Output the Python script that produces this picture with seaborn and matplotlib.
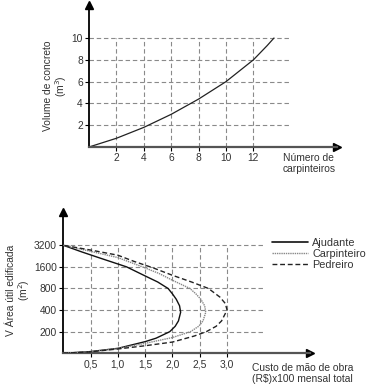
import numpy as np
import pandas as pd
import seaborn as sns
import matplotlib.pyplot as plt

sns.set_theme(style='white')
plt.rcParams['font.family'] = ['Liberation Sans', 'DejaVu Sans']

# top chart: volume de concreto x numero de carpinteiros
carp = [0, 1, 2, 3, 4, 5, 6, 7, 8, 9, 10, 11, 12, 13, 13.5]
volume = [0, 0.4, 0.8, 1.3, 1.8, 2.4, 3.0, 3.7, 4.4, 5.2, 6.0, 7.0, 8.0, 9.3, 10.0]
top_xticks = [2, 4, 6, 8, 10, 12]
top_yticks = [2, 4, 6, 8, 10]

# bottom chart: custo (R$ x100) x area (categorias igualmente espacadas)
area_labels = ['200', '400', '800', '1600', '3200']
area_pos = [1, 2, 3, 4, 5]
custo_ticks = [0.5, 1.0, 1.5, 2.0, 2.5, 3.0]
custo_labels = ['0,5', '1,0', '1,5', '2,0', '2,5', '3,0']

ajud_x = [0, 0.5, 1.0, 1.5, 1.7, 1.95, 2.05, 2.11, 2.15, 2.13, 2.07, 2.0, 1.92, 1.73, 1.5, 1.16, 0.67, 0.33, 0]
ajud_y = [0, 0.08, 0.23, 0.54, 0.7, 1.0, 1.25, 1.5, 1.9, 2.2, 2.5, 2.75, 3.0, 3.3, 3.58, 4.0, 4.41, 4.7, 5.0]
carp_x = [0, 0.5, 1.0, 1.5, 2.0, 2.33, 2.48, 2.56, 2.61, 2.59, 2.52, 2.43, 2.32, 2.0, 1.75, 1.45, 1.0, 0.5, 0]
carp_y = [0, 0.08, 0.22, 0.46, 0.73, 1.0, 1.25, 1.5, 1.9, 2.2, 2.5, 2.75, 3.0, 3.38, 3.7, 4.0, 4.43, 4.72, 5.0]
pedr_x = [0, 0.5, 1.0, 1.5, 2.0, 2.4, 2.62, 2.8, 2.9, 3.0, 2.97, 2.87, 2.66, 2.35, 2.0, 1.65, 1.3, 1.0, 0.5, 0]
pedr_y = [0, 0.07, 0.2, 0.35, 0.52, 0.8, 1.0, 1.25, 1.5, 2.0, 2.3, 2.6, 3.0, 3.3, 3.61, 3.95, 4.25, 4.54, 4.78, 5.0]

W, H = 369, 391
fig = plt.figure(figsize=(W / 100, H / 100), dpi=100)

grid_kw = dict(colors='#8a8a8a', linestyles=(0, (4, 2.5)), linewidth=0.8, zorder=1)
FS = 7.4


def setup_axis(ax, xtop, ytop):
    ax.set_xlim(0, xtop)
    ax.set_ylim(0, ytop)
    for s in ['top', 'right']:
        ax.spines[s].set_visible(False)
    ax.spines['left'].set_color('black')
    ax.spines['left'].set_linewidth(1.3)
    ax.spines['bottom'].set_color('#555555')
    ax.spines['bottom'].set_linewidth(1.6)
    ax.plot(1, 0, '>', color='black', ms=6, transform=ax.get_yaxis_transform(), clip_on=False)
    ax.plot(0, 1, '^', color='black', ms=6, transform=ax.get_xaxis_transform(), clip_on=False)
    ax.tick_params(axis='both', direction='out', length=3, width=0.8, color='black',
                   labelsize=FS, labelcolor='#333333', pad=1.5, bottom=True, left=True)
    ax.set_xlabel('')
    ax.set_ylabel('')
    ax.patch.set_alpha(0)


# ---- top
ax1 = fig.add_axes([89 / W, 1 - 147 / H, (337 - 89) / W, (147 - 5) / H])
ax1.hlines(top_yticks, 0, 14.67, **grid_kw)
ax1.vlines(top_xticks, 0, 10, **grid_kw)
sns.lineplot(x=carp, y=volume, ax=ax1, color='#222222', linewidth=0.9, sort=False, estimator=None)
setup_axis(ax1, 18.1, 13.03)
ax1.set_xticks(top_xticks)
ax1.set_yticks(top_yticks)

fig.text(56 / W, 1 - 86 / H, 'Volume de concreto\n(m$^3$)', rotation=90, ha='center', va='center',
         multialignment='center', fontsize=FS, color='#333333', linespacing=1.05)
fig.text(283 / W, 1 - 153 / H, 'Número de\ncarpinteiros', ha='left', va='top',
         fontsize=FS, color='#333333', linespacing=1.15)

# ---- bottom
df = pd.concat([
    pd.DataFrame({'custo': ajud_x, 'area': ajud_y, 'Profissional': 'Ajudante'}),
    pd.DataFrame({'custo': carp_x, 'area': carp_y, 'Profissional': 'Carpinteiro'}),
    pd.DataFrame({'custo': pedr_x, 'area': pedr_y, 'Profissional': 'Pedreiro'}),
], ignore_index=True)

ax2 = fig.add_axes([63.3 / W, 1 - 353.3 / H, (310 - 63.3) / W, (353.3 - 212) / H])
ax2.hlines(area_pos, 0, 3.69, **grid_kw)
ax2.vlines(custo_ticks, 0, 5, **grid_kw)
sns.lineplot(data=df, x='custo', y='area', hue='Profissional', style='Profissional',
             palette={'Ajudante': '#111111', 'Carpinteiro': '#888888', 'Pedreiro': '#222222'},
             dashes={'Ajudante': '', 'Carpinteiro': (1, 0.6), 'Pedreiro': (3.5, 2)},
             sort=False, estimator=None, ax=ax2, linewidth=1.0, zorder=3)
for line, lw in zip(ax2.get_lines()[-3:], [1.2, 1.0, 1.0]):
    line.set_linewidth(lw)
setup_axis(ax2, 4.52, 6.54)
ax2.set_xticks(custo_ticks)
ax2.set_xticklabels(custo_labels)
ax2.set_yticks(area_pos)
ax2.set_yticklabels(area_labels)

leg = ax2.legend(loc='upper left', bbox_to_anchor=(272 / W, 1 - 238 / H), bbox_transform=fig.transFigure,
                 frameon=False, fontsize=FS + 0.4, handlelength=3.3, handletextpad=0.4,
                 labelspacing=0.1, borderpad=0, borderaxespad=0, title=None)
for t in leg.get_texts():
    t.set_color('#333333')

fig.text(19 / W, 1 - 290 / H, 'V Área útil edificada\n(m$^2$)', rotation=90, ha='center', va='center',
         multialignment='center', fontsize=FS, color='#333333', linespacing=1.05)
fig.text(252 / W, 1 - 363 / H, 'Custo de mão de obra\n(R$)x100 mensal total', ha='left', va='top',
         fontsize=FS, color='#333333', linespacing=1.15)

fig.savefig('out.png', dpi=100)
